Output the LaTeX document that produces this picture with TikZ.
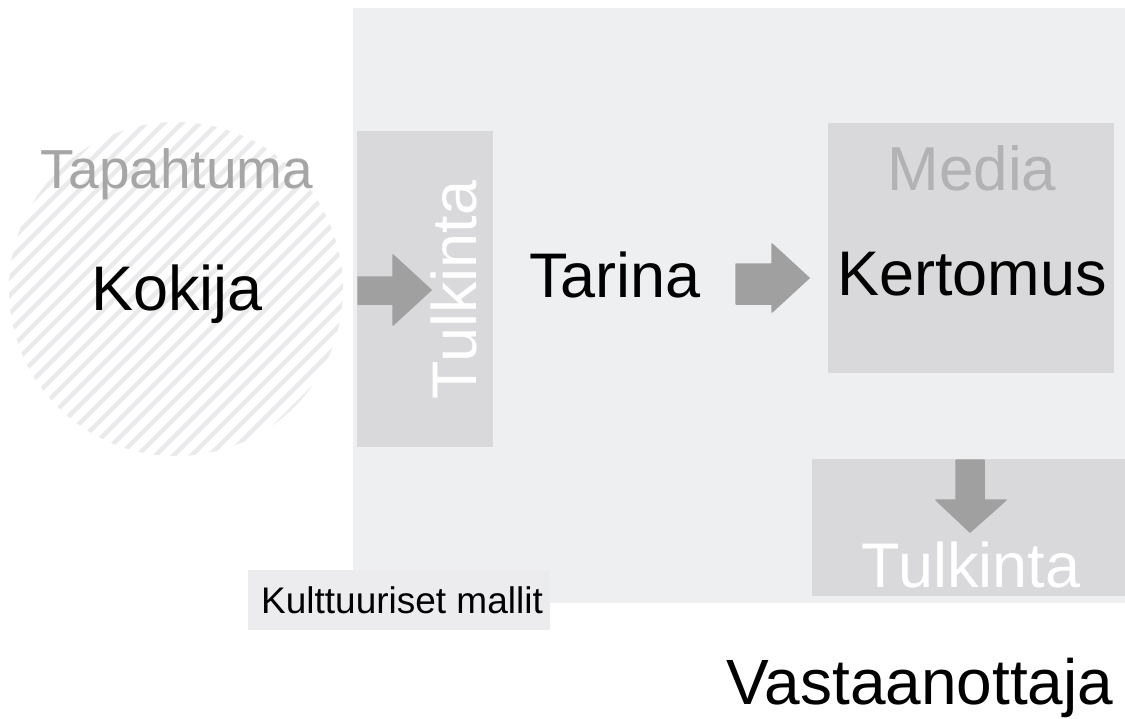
\documentclass[tikz,border=0pt]{standalone}
\usepackage{fontspec}
\setmainfont{Liberation Sans}
\definecolor{panel}{RGB}{238,239,241}
\definecolor{boxgrey}{RGB}{217,217,219}
\definecolor{arrowgrey}{RGB}{160,160,160}
\definecolor{softtext}{RGB}{166,166,166}
\definecolor{mediatext}{RGB}{178,178,180}
\definecolor{hatch}{RGB}{234,234,236}
\definecolor{labelbg}{RGB}{236,236,238}
\newcommand{\fsz}[1]{\fontsize{#1}{#1}\selectfont}
\tikzset{
  big/.style={font=\fsz{63}, inner sep=0pt, anchor=base},
  blockarrow/.style={fill=arrowgrey, draw=arrowgrey, line width=1.5pt, line join=round},
  area/.style={fill=boxgrey, draw=none},
}
\begin{document}
\begin{tikzpicture}[x=1pt, y=-1pt]
\useasboundingbox (0,0) rectangle (1125,718);
\fill[white] (0,0) rectangle (1125,718);

% shared panel
\fill[panel] (353,8) rectangle (1125,603);

% hatched event circle
\begin{scope}
  \clip (176,289) circle (167);
  \foreach \i in {-520,-502,...,520}
    \draw[hatch, line width=4.5pt] (176+\i-220,289+220) -- (176+\i+220,289-220);
\end{scope}
\node[font=\fsz{55}, text=softtext, inner sep=0pt, anchor=base] (event) at (177,188) {Tapahtuma};
\node[big] (experiencer) at (177,310) {Kokija};

% first interpretation
\fill[area] (357,131) rectangle (493,447);
\node[font=\fsz{63}, text=white, inner sep=0pt, anchor=base, rotate=90] (interp1) at (476,290) {Tulkinta};

% story
\node[big] (story) at (615,297) {Tarina};

% media box
\fill[area] (828,123) rectangle (1114,373);
\node[font=\fsz{62}, text=mediatext, inner sep=0pt, anchor=base] (media) at (972,190) {Media};
\node[big] (narrative) at (972,295) {Kertomus};

% second interpretation
\fill[area] (812,459) rectangle (1125,596);
\node[font=\fsz{63}, text=white, inner sep=0pt, anchor=base] (interp2) at (971,587) {Tulkinta};

% block arrows
\filldraw[blockarrow] (358,277) -- (393,277) -- (393,255) -- (431,290) -- (393,325) -- (393,304) -- (358,304) -- cycle;
\filldraw[blockarrow] (736,264) -- (772,264) -- (772,244) -- (809,278) -- (772,312) -- (772,304) -- (736,304) -- cycle;
\filldraw[blockarrow] (956,460) -- (984,460) -- (984,500) -- (1006,500) -- (970,532) -- (936,500) -- (956,500) -- cycle;

% cultural models label
\fill[labelbg] (248,570) rectangle (550,630);
\node[font=\fsz{37}, inner sep=0pt, anchor=base] (models) at (402,613) {Kulttuuriset mallit};

% receiver
\node[font=\fsz{64}, inner sep=0pt, anchor=base] (receiver) at (920,704) {Vastaanottaja};
\end{tikzpicture}
\end{document}
